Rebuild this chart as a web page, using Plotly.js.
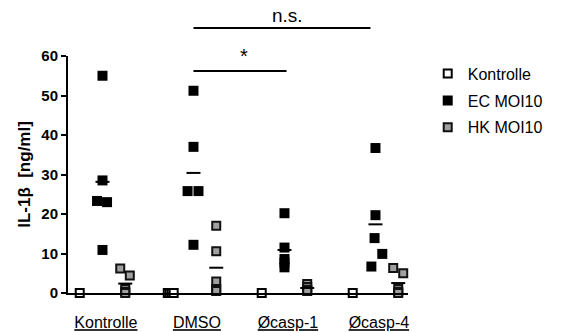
<!DOCTYPE html>
<html>
<head>
<meta charset="utf-8">
<script src="https://cdn.plot.ly/plotly-3.0.1.min.js"></script>
<style>html,body{margin:0;padding:0;background:#fff;}#chart{width:563px;height:332px;}</style>
</head>
<body>
<div id="chart"></div>
<script>
// ---- data ----
const groups = ['Kontrolle', 'DMSO', 'Øcasp-1', 'Øcasp-4'];
const seriesNames = ['Kontrolle', 'EC MOI10', 'HK MOI10'];
// IL-1β [ng/ml], one list per group
const kontrolleValues = [[0], [0, 0, 0, 0], [0], [0]];
const ecMoi10Values = [
  [55, 28.5, 23.3, 23, 10.9],
  [51.2, 37, 25.8, 25.8, 12.2],
  [20.2, 11.5, 8.6, 7.7, 6.5],
  [36.7, 19.7, 13.9, 9.9, 6.7]
];
const hkMoi10Values = [
  [6.2, 4.4, 1.0, 0.3, 0],
  [17, 10.6, 2.9, 1.0, 0.5],
  [2.3, 1.5, 0.8, 0.5],
  [6.3, 5.0, 1.0, 0.3, 0]
];
const yTicks = [0, 10, 20, 30, 40, 50, 60];

// ---- layout helpers (horizontal scatter of overlapping points) ----
const groupSpacing = 4;
const seriesOffset = [-1, 0, 1];
const kontrolleJitter = [[0], [-0.13, -0.045, 0.045, 0.13], [0], [0]];
const ecJitter = [[0, 0, -0.24, 0.2, 0], [0, 0, -0.26, 0.22, 0], [0, 0, 0, 0, 0], [0, 0, -0.04, 0.3, -0.18]];
const hkJitter = [[-0.22, 0.2, 0, 0, 0], [0, 0, 0, 0, 0], [0, 0, 0, 0], [-0.22, 0.22, 0, 0, 0]];

function flatten(vals, jit, s) {
  const x = [], y = [];
  vals.forEach((arr, g) => arr.forEach((v, i) => {
    x.push(g * groupSpacing + seriesOffset[s] + jit[g][i]);
    y.push(v);
  }));
  return {x, y};
}
function means(vals, s) {
  const x = [], y = [];
  vals.forEach((arr, g) => {
    x.push(g * groupSpacing + seriesOffset[s]);
    y.push(arr.reduce((a, b) => a + b, 0) / arr.length);
  });
  return {x, y};
}

const k = flatten(kontrolleValues, kontrolleJitter, 0);
const e = flatten(ecMoi10Values, ecJitter, 1);
const h = flatten(hkMoi10Values, hkJitter, 2);
const em = means(ecMoi10Values, 1);
const hm = means(hkMoi10Values, 2);

const traces = [
  {type: 'scatter', mode: 'markers', name: seriesNames[0], x: k.x, y: k.y, cliponaxis: false,
   legendgroup: 'a', marker: {symbol: 'square', size: 8, color: '#ffffff', line: {color: '#000', width: 2}}},
  {type: 'scatter', mode: 'markers', name: seriesNames[1], x: e.x, y: e.y, cliponaxis: false,
   legendgroup: 'b', marker: {symbol: 'square', size: 10, color: '#000000', line: {color: '#000', width: 0}}},
  {type: 'scatter', mode: 'markers', name: seriesNames[2], x: h.x, y: h.y, cliponaxis: false,
   legendgroup: 'c', marker: {symbol: 'square', size: 8, color: '#a0a0a0', line: {color: '#111', width: 2}}},
  {type: 'scatter', mode: 'markers', showlegend: false, x: em.x, y: em.y, cliponaxis: false, hoverinfo: 'skip',
   marker: {symbol: 'line-ew', size: 10, line: {color: '#000', width: 2}}},
  {type: 'scatter', mode: 'markers', showlegend: false, x: hm.x, y: hm.y, cliponaxis: false, hoverinfo: 'skip',
   marker: {symbol: 'line-ew', size: 10, line: {color: '#000', width: 2}}}
];

const font = 'Liberation Sans, Arial, sans-serif';
const layout = {
  width: 563, height: 332,
  margin: {l: 68, r: 155, t: 56, b: 39, pad: 0},
  paper_bgcolor: '#fff', plot_bgcolor: '#fff',
  font: {family: font, color: '#000'},
  showlegend: true,
  legend: {x: 1.058, y: 0.997, xanchor: 'left', yanchor: 'top', font: {size: 16, family: font},
           tracegroupgap: 3, bgcolor: 'rgba(0,0,0,0)'},
  xaxis: {
    range: [-1.516, 13.43], showgrid: false, zeroline: false,
    showline: true, linecolor: '#000', linewidth: 2,
    ticks: '', tickvals: groups.map((g, i) => i * groupSpacing + 0.15),
    ticktext: groups.map(g => '<u>' + g + '</u>'),
    tickfont: {size: 16, family: font}, ticklabelstandoff: 14
  },
  yaxis: {
    range: [0, 60], showgrid: false, zeroline: false,
    showline: true, linecolor: '#000', linewidth: 2,
    ticks: 'outside', ticklen: 5, tickwidth: 2, tickcolor: '#000',
    tickvals: yTicks, tickfont: {size: 15, family: font, weight: 'bold'},
    title: {text: '<b>IL-1β  [ng/ml]</b>', font: {size: 17, family: font}, standoff: 6}
  },
  shapes: [
    {type: 'line', xref: 'x', yref: 'paper', x0: 4 * 1, x1: 4 * 2 + 0.09, y0: 0.937, y1: 0.937, line: {color: '#000', width: 2}},
    {type: 'line', xref: 'x', yref: 'paper', x0: 4 * 1, x1: 11.78, y0: 1.118, y1: 1.118, line: {color: '#000', width: 2}}
  ],
  annotations: [
    {text: '*', xref: 'x', yref: 'paper', x: 6.2, y: 0.937, yanchor: 'bottom', showarrow: false, font: {size: 20, family: font}, yshift: 2},
    {text: 'n.s.', xref: 'x', yref: 'paper', x: 8.15, y: 1.118, yanchor: 'bottom', showarrow: false, font: {size: 19, family: font}, yshift: 0}
  ]
};

Plotly.newPlot('chart', traces, layout, {displayModeBar: false, staticPlot: true});
</script>
</body>
</html>
